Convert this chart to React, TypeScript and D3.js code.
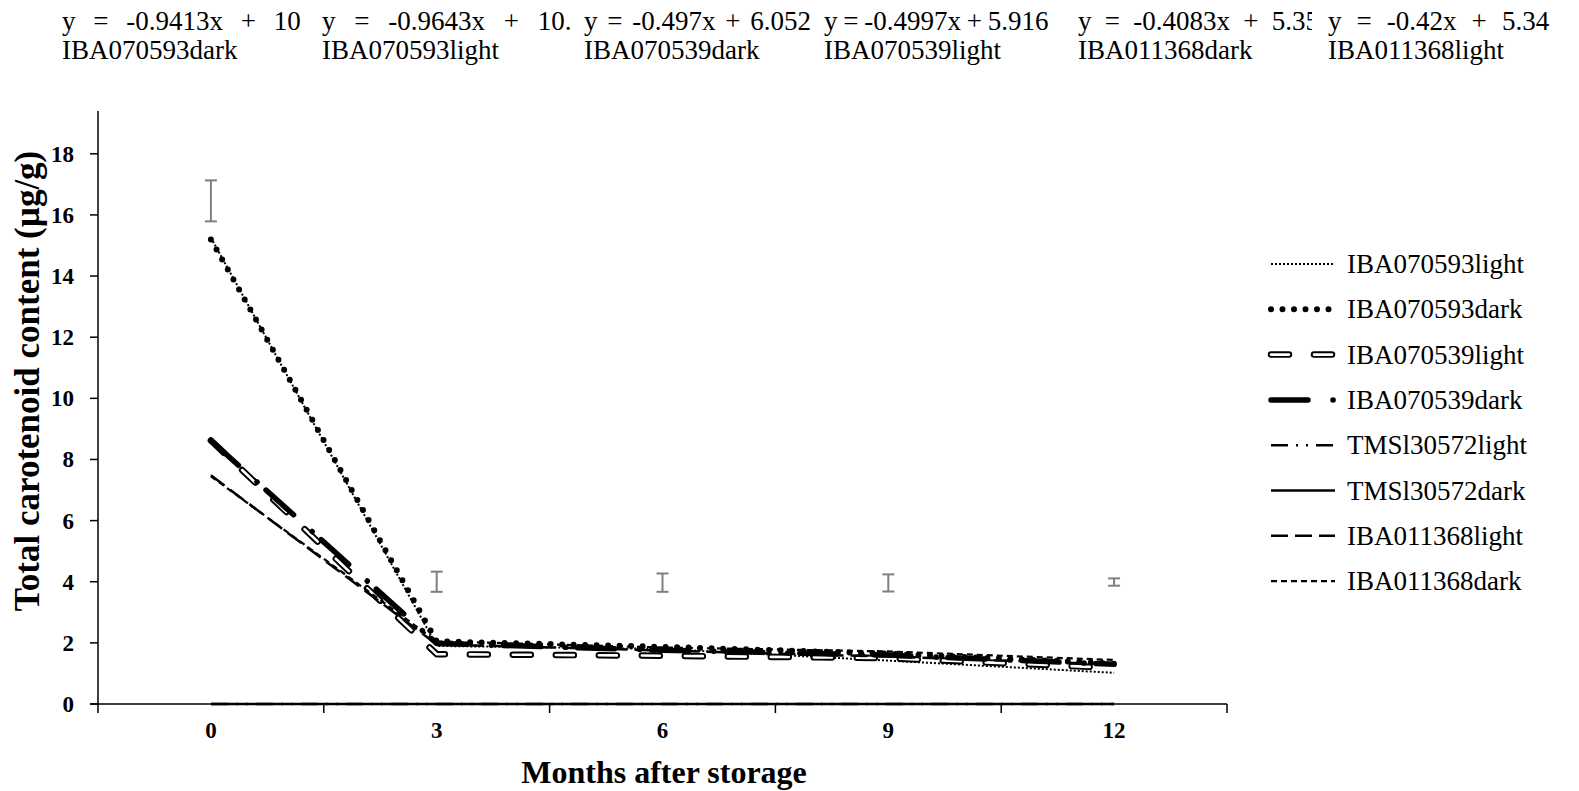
import React, { useEffect, useRef } from 'react';
import * as d3 from 'd3';

// months after storage (category axis)
const months = ['0', '3', '6', '9', '12'];

// total carotenoid content (µg/g)
const iba070593light = [15.25, 1.9, 1.8, 1.42, 1.02];
const iba070593dark = [15.2, 2.05, 1.87, 1.65, 1.32];
const iba070539light = [8.62, 1.63, 1.58, 1.5, 1.18];
const iba070539dark = [8.62, 1.98, 1.76, 1.6, 1.3];
const tms130572light = [0, 0, 0, 0, 0];
const tms130572dark = [0, 0, 0, 0, 0];
const iba011368light = [7.48, 1.95, 1.75, 1.55, 1.3];
const iba011368dark = [7.45, 2.05, 1.85, 1.72, 1.44];

const seriesNames = [
  'IBA070593light', 'IBA070593dark', 'IBA070539light', 'IBA070539dark',
  'TMSl30572light', 'TMSl30572dark', 'IBA011368light', 'IBA011368dark',
];
const seriesValues = [
  iba070593light, iba070593dark, iba070539light, iba070539dark,
  tms130572light, tms130572dark, iba011368light, iba011368dark,
];

// LSD bars drawn at each month
const lsdMean = [16.46, 4.0, 3.97, 3.96, 3.99];
const lsdErr = [0.67, 0.33, 0.3, 0.28, 0.12];

const yTicks = [0, 2, 4, 6, 8, 10, 12, 14, 16, 18];
const yMax = 19.4;

// trendline labels sitting above the plot
const eqNames = ['IBA070593dark', 'IBA070593light', 'IBA070539dark', 'IBA070539light', 'IBA011368dark', 'IBA011368light'];
const eqTexts = ['y = -0.9413x + 10', 'y = -0.9643x + 10.', 'y = -0.497x + 6.052', 'y = -0.4997x + 5.916', 'y = -0.4083x + 5.352', 'y = -0.42x + 5.34'];

// line styles per series; "hollow" draws a white core on top
const lineStyles = {
  IBA070593light: { w: 2, dash: '2,2', cap: 'butt' },
  IBA070593dark: { w: 6, dash: '0,11.5', cap: 'round' },
  IBA070539light: { w: 6.5, dash: '18,25', cap: 'round', hollow: true },
  IBA070539dark: { w: 5.5, dash: '37,25,0.1,12', cap: 'round' },
  TMSl30572light: { w: 2.5, dash: '17,8,2,8,2,8', cap: 'butt' },
  TMSl30572dark: { w: 2.5, dash: null, cap: 'butt' },
  IBA011368light: { w: 2.5, dash: '17,7', cap: 'butt' },
  IBA011368dark: { w: 2.2, dash: '6,4', cap: 'butt' },
};

const eqX = [62, 322, 584, 824, 1078, 1328];
const eqWordSpacing = [11, 12, 3, -1, 6.5, 8.3];
const eqClip = [242, 252, 240, 240, 234, 240];

const W = 1579;
const H = 791;
const serif = '"Liberation Serif", "Times New Roman", serif';

const App = () => {
  const svgRef = useRef(null);

  useEffect(() => {
    const svg = d3.select(svgRef.current);
    svg.selectAll('*').remove();

    const x = d3.scaleBand().domain(months).range([98, 1227]);
    const y = d3.scaleLinear().domain([0, yMax]).range([704, 111]);
    const cx = (m) => x(m) + x.bandwidth() / 2;

    const defs = svg.append('defs');

    // trendline equations + names at top
    eqTexts.forEach((t, i) => {
      defs.append('clipPath').attr('id', `eqclip${i}`)
        .append('rect').attr('x', eqX[i]).attr('y', 0).attr('width', eqClip[i]).attr('height', 70);
      const g = svg.append('g').attr('clip-path', `url(#eqclip${i})`)
        .attr('font-family', serif).attr('font-size', 27).attr('fill', '#000');
      g.append('text').attr('x', eqX[i]).attr('y', 30)
        .style('word-spacing', `${eqWordSpacing[i]}px`).text(t);
      g.append('text').attr('x', eqX[i]).attr('y', 59).text(eqNames[i]);
    });

    // axes
    const axis = svg.append('g').attr('stroke', '#000').attr('stroke-width', 1.5);
    axis.append('line').attr('x1', 98).attr('x2', 98).attr('y1', y(yMax)).attr('y2', y(0));
    axis.append('line').attr('x1', 90).attr('x2', 1227).attr('y1', y(0)).attr('y2', y(0));
    yTicks.forEach(t => {
      axis.append('line').attr('x1', 90).attr('x2', 98).attr('y1', y(t)).attr('y2', y(t));
    });
    const bounds = months.map(m => x(m)).concat([x.range()[1]]);
    bounds.forEach(b => {
      axis.append('line').attr('x1', b).attr('x2', b).attr('y1', y(0)).attr('y2', y(0) + 9);
    });

    svg.append('g').selectAll('text').data(yTicks).enter().append('text')
      .attr('x', 74).attr('y', d => y(d) + 8)
      .attr('text-anchor', 'end')
      .attr('font-family', serif).attr('font-weight', 'bold').attr('font-size', 23)
      .text(d => d);

    svg.append('g').selectAll('text').data(months).enter().append('text')
      .attr('x', d => cx(d)).attr('y', 738)
      .attr('text-anchor', 'middle')
      .attr('font-family', serif).attr('font-weight', 'bold').attr('font-size', 23)
      .text(d => d);

    svg.append('text')
      .attr('x', 664).attr('y', 783)
      .attr('text-anchor', 'middle')
      .attr('font-family', serif).attr('font-weight', 'bold').attr('font-size', 32)
      .text('Months after storage');

    svg.append('text')
      .attr('transform', `translate(39,${381}) rotate(-90)`)
      .attr('text-anchor', 'middle')
      .attr('font-family', serif).attr('font-weight', 'bold').attr('font-size', 35)
      .text('Total carotenoid content (µg/g)');

    // LSD error bars
    const eb = svg.append('g').attr('stroke', '#7f7f7f').attr('stroke-width', 2);
    months.forEach((m, i) => {
      const top = y(lsdMean[i] + lsdErr[i]);
      const bot = y(lsdMean[i] - lsdErr[i]);
      eb.append('line').attr('x1', cx(m)).attr('x2', cx(m)).attr('y1', top).attr('y2', bot);
      eb.append('line').attr('x1', cx(m) - 6).attr('x2', cx(m) + 6).attr('y1', top).attr('y2', top);
      eb.append('line').attr('x1', cx(m) - 6).attr('x2', cx(m) + 6).attr('y1', bot).attr('y2', bot);
    });

    // series lines
    const line = d3.line().x((d, i) => cx(months[i])).y(d => y(d));

    const drawStyled = (sel, name) => {
      const s = lineStyles[name];
      const p = sel.append('path')
        .attr('fill', 'none').attr('stroke', '#000')
        .attr('stroke-width', s.w).attr('stroke-linecap', s.cap).attr('stroke-linejoin', 'round');
      if (s.dash) p.attr('stroke-dasharray', s.dash);
      if (s.hollow) {
        const q = sel.append('path')
          .attr('fill', 'none').attr('stroke', '#fff')
          .attr('stroke-width', 2.6).attr('stroke-linecap', 'round').attr('stroke-dasharray', s.dash);
        return [p, q];
      }
      return [p];
    };

    const plot = svg.append('g');
    seriesValues.forEach((vals, i) => {
      drawStyled(plot, seriesNames[i]).forEach(p => p.attr('d', line(vals)));
    });

    // legend
    const lg = svg.append('g');
    seriesNames.forEach((name, i) => {
      const ly = 264 + i * 45.3;
      const seg = `M1271,${ly}L1335,${ly}`;
      drawStyled(lg, name).forEach(p => p.attr('d', seg));
      lg.append('text').attr('x', 1347).attr('y', ly + 9)
        .attr('font-family', serif).attr('font-size', 27).text(name);
    });
  }, []);

  return (
    <svg ref={svgRef} width={W} height={H}
      style={{ position: 'absolute', left: 0, top: 0, background: '#fff' }} />
  );
};

export default App;
